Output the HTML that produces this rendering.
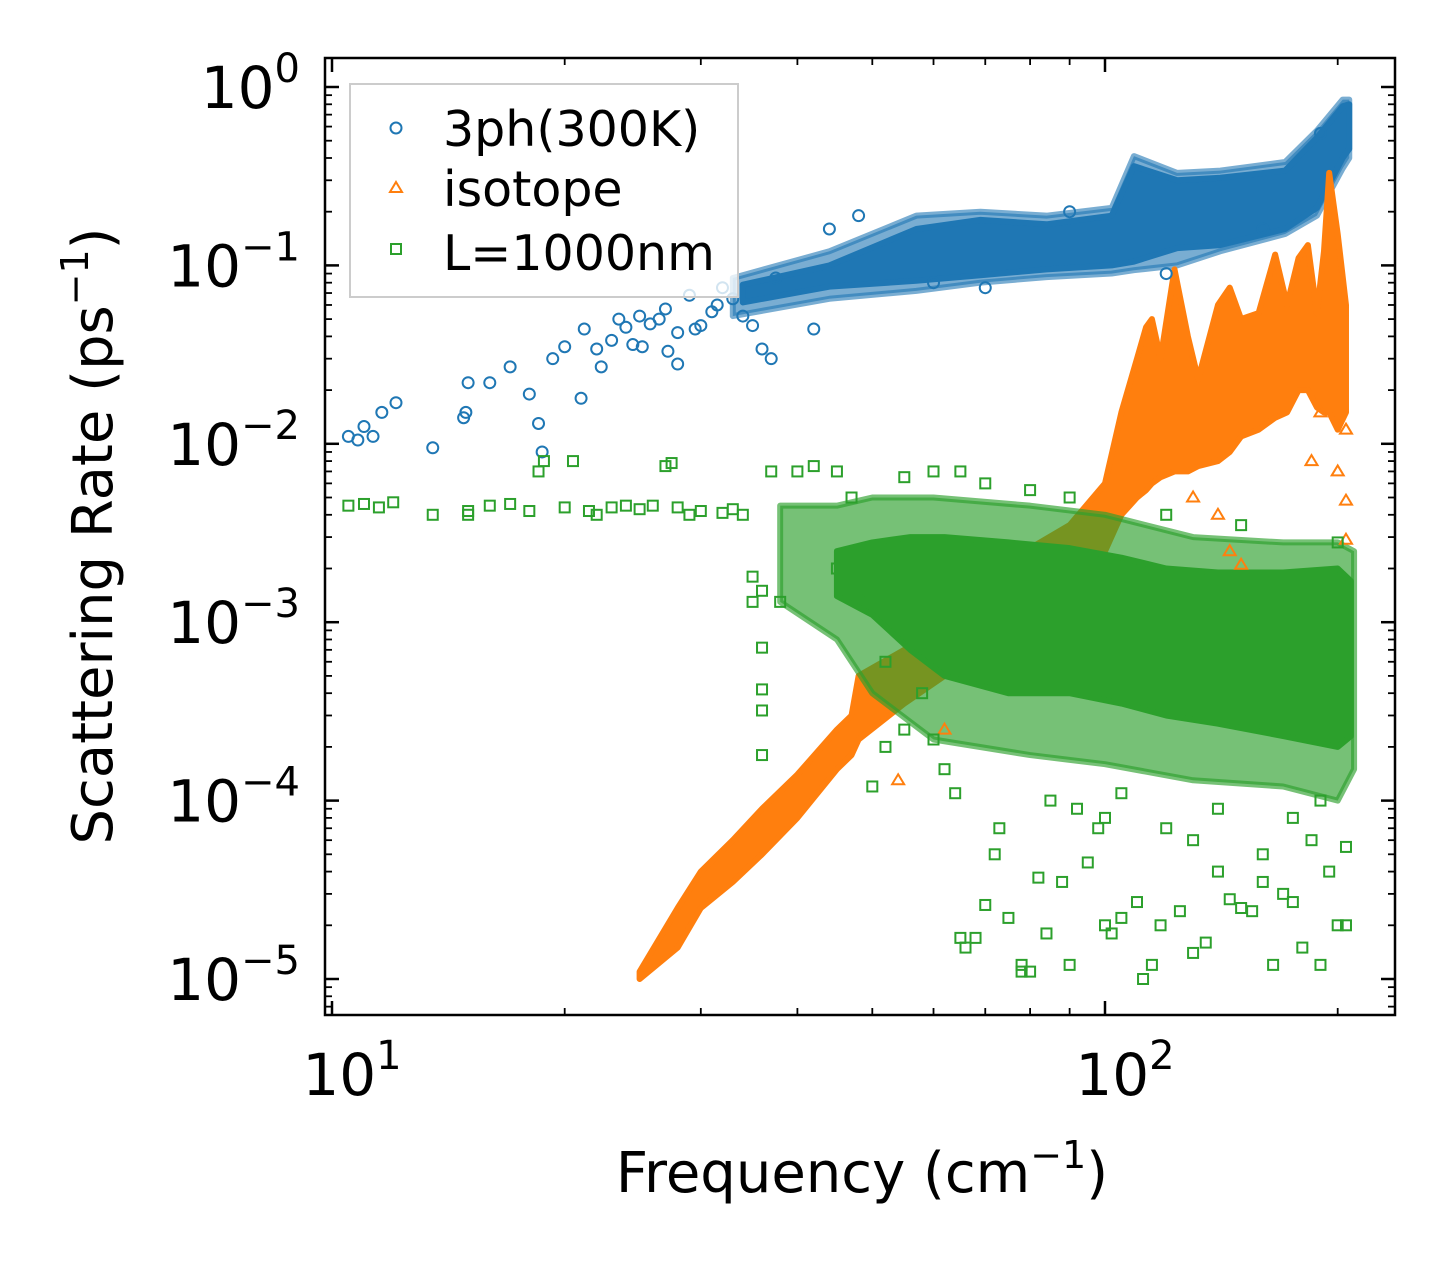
<!DOCTYPE html>
<html><head><meta charset="utf-8">
<style>
html,body{margin:0;padding:0;background:#fff;}
svg{display:block;font-family:"DejaVu Sans","Liberation Sans",sans-serif;}
</style></head>
<body>
<svg id="chart" width="1455" height="1265" viewBox="0 0 1455 1265" xmlns="http://www.w3.org/2000/svg">
<rect x="0" y="0" width="1455" height="1265" fill="#fff"/>
<g id="bands"></g>
<g id="marks"></g>
<rect x="325" y="58" width="1070" height="957" fill="none" stroke="#000" stroke-width="2.5"/>
<g id="ticks"></g>
<text x="862" y="1192" font-size="56" text-anchor="middle">Frequency (cm<tspan dy="-24" font-size="38">−1</tspan><tspan dy="24">)</tspan></text>
<text transform="translate(112,536) rotate(-90)" font-size="56" text-anchor="middle">Scattering Rate (ps<tspan dy="-24" font-size="38">−1</tspan><tspan dy="24">)</tspan></text>
<g>
<rect x="350" y="84" width="388" height="213" fill="#fff" fill-opacity="0.8" stroke="#ccc" stroke-width="2"/>
<circle cx="396" cy="128" r="5.5" fill="none" stroke="#1f77b4" stroke-width="2"/>
<text x="443" y="146" font-size="49">3ph(300K)</text>
<path d="M396,182 L402,192 L390,192 Z" fill="none" stroke="#ff7f0e" stroke-width="2"/>
<text x="443" y="206" font-size="49">isotope</text>
<rect x="391" y="244" width="10" height="10" fill="none" stroke="#2ca02c" stroke-width="2"/>
<text x="443" y="270" font-size="49">L=1000nm</text>
</g>
</svg>
<script>
// ---- data ----
const blueBandF  = [34,44,57,69,84,102,109,124,141,171,188,203,207];
const blueBandLo = [0.062,0.076,0.082,0.088,0.095,0.10,0.105,0.125,0.13,0.16,0.21,0.40,0.45];
const blueBandHi = [0.078,0.10,0.16,0.18,0.17,0.19,0.36,0.30,0.31,0.34,0.52,0.78,0.80];
const blueFringeF  = [33,44,57,69,84,102,109,124,141,171,188,203,207];
const blueFringeLo = [0.052,0.065,0.072,0.080,0.086,0.090,0.094,0.10,0.12,0.15,0.19,0.35,0.40];
const blueFringeHi = [0.085,0.12,0.19,0.20,0.19,0.21,0.41,0.33,0.34,0.38,0.57,0.85,0.85];

const orangeBandF  = [25,28,30,33,36,40,45,47,48,55,62,75,90,100,105,110,113,115,118,123,128,132,140,145,150,158,166,172,178,183,188,192,195,200,205];
const orangeBandLo = [1e-5,1.5e-5,2.5e-5,3.5e-5,5e-5,8e-5,1.5e-4,1.8e-4,2.2e-4,3.5e-4,5e-4,1e-3,2e-3,2.5e-3,4e-3,5e-3,5.5e-3,6e-3,6.5e-3,7e-3,7e-3,7.5e-3,8e-3,9e-3,1.1e-2,1.2e-2,1.4e-2,1.5e-2,2e-2,2e-2,1.6e-2,1.5e-2,1.5e-2,1.2e-2,1.5e-2];
const orangeBandHi = [1.1e-5,2.5e-5,4e-5,6e-5,9e-5,1.4e-4,2.5e-4,3e-4,5e-4,7e-4,1.1e-3,2.2e-3,3.5e-3,6e-3,1.5e-2,3e-2,4.5e-2,5e-2,3e-2,9.5e-2,4e-2,2.3e-2,6e-2,7.5e-2,5e-2,5.4e-2,1.15e-1,6e-2,1.1e-1,1.3e-1,5.4e-2,1.2e-1,3.3e-1,1.5e-1,6e-2];

const greenBandF  = [45,50,56,62,75,90,105,120,140,170,200,208];
const greenBandLo = [1.4e-3,1.1e-3,7e-4,5e-4,4e-4,4e-4,3.5e-4,3e-4,2.7e-4,2.3e-4,2e-4,2.3e-4];
const greenBandHi = [2.5e-3,2.8e-3,3e-3,3e-3,2.8e-3,2.6e-3,2.3e-3,2e-3,1.9e-3,1.9e-3,2e-3,1.7e-3];
const greenFringeF  = [38,45,50,60,80,100,130,170,200,210];
const greenFringeLo = [1.3e-3,8e-4,4e-4,2.2e-4,1.8e-4,1.6e-4,1.3e-4,1.2e-4,1e-4,1.5e-4];
const greenFringeHi = [4.5e-3,4.5e-3,5e-3,5e-3,4.5e-3,4e-3,3e-3,2.8e-3,2.8e-3,2.5e-3];

const blueF = [10.5,10.8,11,11.3,11.6,12.1,13.5,14.8,14.9,15,16,17,18,18.5,18.7,19.3,20,21,21.2,22,22.3,23,23.5,24,25,24.5,25.2,25.8,26.5,27,27.2,28,28,29,29.5,30,31,31.5,32,33,34,35,36,37,37.5,42,44,48,60,70,90,120,160,190];
const blueV = [0.011,0.0105,0.0125,0.011,0.015,0.017,0.0095,0.014,0.015,0.022,0.022,0.027,0.019,0.013,0.009,0.03,0.035,0.018,0.044,0.034,0.027,0.038,0.05,0.045,0.052,0.036,0.035,0.047,0.05,0.057,0.033,0.028,0.042,0.068,0.044,0.046,0.055,0.06,0.075,0.065,0.052,0.046,0.034,0.03,0.085,0.044,0.16,0.19,0.08,0.075,0.2,0.09,0.16,0.55];
const orangeF = [150,145,185,205,205,205,62,54,190,130,140,200];
const orangeV = [2.1e-3,2.5e-3,8e-3,4.8e-3,2.9e-3,1.2e-2,2.5e-4,1.3e-4,1.5e-2,5e-3,4e-3,7e-3];
const greenF = [10.5,11,11.5,12,13.5,15,15,16,17,18,18.5,18.8,20.5,20,21.5,22,23,24,25,26,27,27.5,28,29,30,32,33,34,35,35,36,37,36,36,36,36,38,40,42,45,47,50,52,55,60,62,64,65,66,68,70,72,73,75,78,78,80,82,84,88,90,92,95,98,100,102,105,110,112,115,118,120,125,130,135,140,145,150,155,160,165,170,175,180,185,190,195,200,205,205,55,60,65,70,80,90,120,150,200,100,130,160,190,45,48,52,58,85,105,140,175];
const greenV = [4.5e-3,4.6e-3,4.4e-3,4.7e-3,4e-3,4.2e-3,4e-3,4.5e-3,4.6e-3,4.2e-3,7e-3,8e-3,8e-3,4.4e-3,4.2e-3,4e-3,4.4e-3,4.5e-3,4.3e-3,4.5e-3,7.5e-3,7.8e-3,4.4e-3,4e-3,4.2e-3,4.1e-3,4.3e-3,4e-3,1.8e-3,1.3e-3,1.5e-3,7e-3,7.2e-4,4.2e-4,3.2e-4,1.8e-4,1.3e-3,7e-3,7.5e-3,7e-3,5e-3,1.2e-4,2e-4,2.5e-4,2.2e-4,1.5e-4,1.1e-4,1.7e-5,1.5e-5,1.7e-5,2.6e-5,5e-5,7e-5,2.2e-5,1.2e-5,1.1e-5,1.1e-5,3.7e-5,1.8e-5,3.5e-5,1.2e-5,9e-5,4.5e-5,7e-5,2e-5,1.8e-5,2.2e-5,2.7e-5,1e-5,1.2e-5,2e-5,7e-5,2.4e-5,1.4e-5,1.6e-5,4e-5,2.8e-5,2.5e-5,2.4e-5,3.5e-5,1.2e-5,3e-5,2.7e-5,1.5e-5,6e-5,1.2e-5,4e-5,2e-5,5.5e-5,2e-5,6.5e-3,7e-3,7e-3,6e-3,5.5e-3,5e-3,4e-3,3.5e-3,2.8e-3,8e-5,6e-5,5e-5,1e-4,2e-3,1.5e-3,6e-4,4e-4,1e-4,1.1e-4,9e-5,8e-5];

const xTickVals = [10,100];
const xTickLabels = ["1","2"];
const yTickExps = [0,-1,-2,-3,-4,-5];

// ---- axes ----
const X0=332, XDEC=773, Y0=87, YDEC=178.4;
const xs = v => X0 + (Math.log10(v)-1)*XDEC;
const ys = v => Y0 - Math.log10(v)*YDEC;
const NS="http://www.w3.org/2000/svg";
function mk(tag, attrs, parent){const e=document.createElementNS(NS,tag);for(const k in attrs)e.setAttribute(k,attrs[k]);parent.appendChild(e);return e;}

const bands=document.getElementById('bands');
function band(F,Lo,Hi,color,op,name){
  let pts=F.map((f,i)=>xs(f)+','+ys(Hi[i]));
  for(let i=F.length-1;i>=0;i--) pts.push(xs(F[i])+','+ys(Lo[i]));
  const p=mk('polygon',{points:pts.join(' '),fill:color,stroke:color,'stroke-width':6,'stroke-linejoin':'round','fill-opacity':op,'stroke-opacity':op},bands);
  
  
}
const marks=document.getElementById('marks');
function circles(F,V){F.forEach((f,i)=>{const c=mk('circle',{cx:xs(f),cy:ys(V[i]),r:5.5,fill:'none',stroke:'#1f77b4','stroke-width':2},marks);
  
  });}
function tris(F,V){F.forEach((f,i)=>{const x=xs(f),y=ys(V[i]);const t=mk('path',{d:`M${x},${y-6} L${x+6},${y+4} L${x-6},${y+4} Z`,fill:'none',stroke:'#ff7f0e','stroke-width':2},marks);
  
  });}
function squares(F,V){F.forEach((f,i)=>{const s=mk('rect',{x:xs(f)-5,y:ys(V[i])-5,width:10,height:10,fill:'none',stroke:'#2ca02c','stroke-width':2},marks);
  
  });}

band(blueFringeF,blueFringeLo,blueFringeHi,'#1f77b4',0.6,'fringe-3ph');
band(blueBandF,blueBandLo,blueBandHi,'#1f77b4',1,'band-3ph');
circles(blueF,blueV);
band(orangeBandF,orangeBandLo,orangeBandHi,'#ff7f0e',1,'band-isotope');
tris(orangeF,orangeV);
band(greenFringeF,greenFringeLo,greenFringeHi,'#2ca02c',0.65,'fringe-boundary');
band(greenBandF,greenBandLo,greenBandHi,'#2ca02c',1,'band-boundary');
squares(greenF,greenV);

// ---- ticks ----
const tk=document.getElementById('ticks');
const L=325,R=1395,T=58,B=1015;
function line(x1,y1,x2,y2,w){mk('line',{x1,y1,x2,y2,stroke:'#000','stroke-width':w},tk);}
for(let d=1;d<=2;d++){for(let m=1;m<10;m++){const v=m*Math.pow(10,d);const x=xs(v);if(x<L||x>R)continue;
  const len=m===1?14:7, w=m===1?2.5:1.8; line(x,B,x,B-len,w); line(x,T,x,T+len,w);}}
for(let m=2;m<10;m++){const x=xs(m);if(x>=L){line(x,B,x,B-7,1.8);line(x,T,x,T+7,1.8);}}
xTickVals.forEach((v,i)=>{const t=mk('text',{x:xs(v)+20,y:1095,'font-size':58,'text-anchor':'middle'},tk);
  
  
  t.innerHTML='10<tspan dy="-26" font-size="40">'+xTickLabels[i]+'</tspan>';});
for(let e=-6;e<=0;e++){for(let m=1;m<10;m++){const y=ys(m*Math.pow(10,e));if(y<T||y>B)continue;
  const len=m===1?14:7,w=m===1?2.5:1.8; line(L,y,L+len,y,w); line(R,y,R-len,y,w);}}
yTickExps.forEach(e=>{const t=mk('text',{x:300,y:ys(Math.pow(10,e))+21,'font-size':58,'text-anchor':'end'},tk);
  
  
  const lab=e===0?'0':'−'+(-e);
  t.innerHTML='10<tspan dy="-26" font-size="40">'+lab+'</tspan>';});
</script>
</body></html>
